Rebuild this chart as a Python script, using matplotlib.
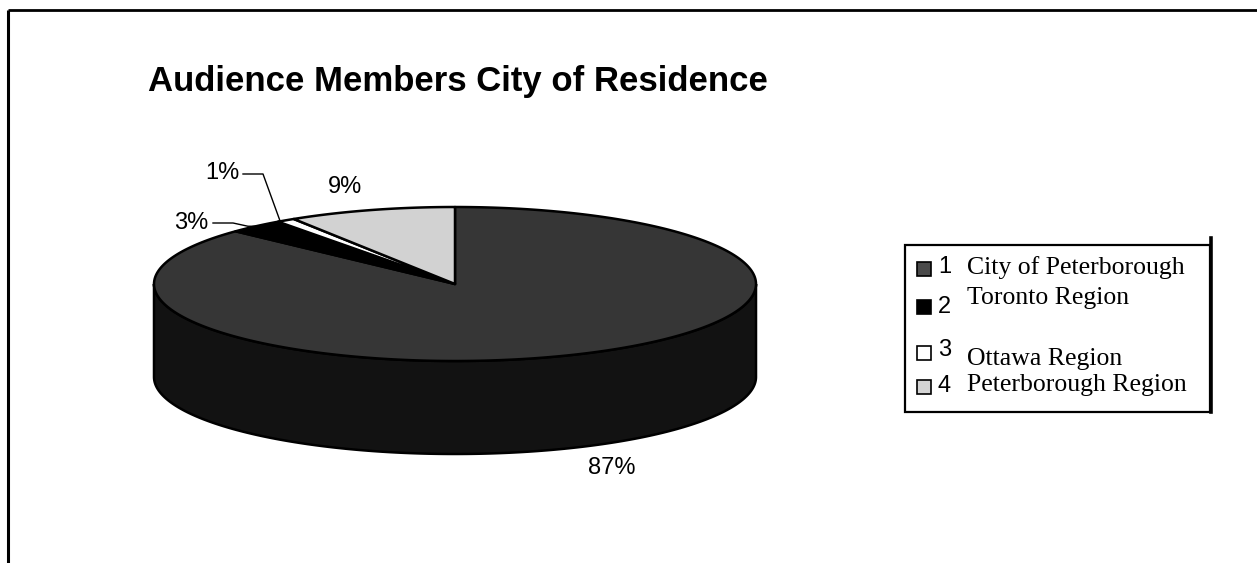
import numpy as np
import matplotlib
matplotlib.use("Agg")
import matplotlib.pyplot as plt
from matplotlib.patches import Polygon, Rectangle

# Chart data
title = "Audience Members City of Residence"
categories = ["City of Peterborough", "Toronto Region", "Ottawa Region", "Peterborough Region"]
series_ids = ["1", "2", "3", "4"]
shares = [87, 3, 1, 9]  # percent of audience

top_colors = ["#363636", "#000000", "#ffffff", "#d2d2d2"]
side_colors = ["#121212", "#000000", "#e0e0e0", "#a8a8a8"]
legend_colors = ["#4a4a4a", "#000000", "#ffffff", "#d4d4d4"]

W, H = 1257, 563
fig = plt.figure(figsize=(W / 100, H / 100), dpi=100)
ax = fig.add_axes([0, 0, 1, 1])
ax.set_xlim(0, W)
ax.set_ylim(H, 0)
ax.axis("off")

# Outer frame (left and top edges)
ax.plot([8, 8], [H, 10], color="black", lw=2.2, solid_capstyle="butt")
ax.plot([8, W], [10, 10], color="black", lw=2.0, solid_capstyle="butt")

ax.text(148, 82, title, fontsize=25, fontweight="bold", family="Liberation Sans",
        ha="left", va="center", color="black")

# 3-D pie geometry (screen pixels)
cx, cy, a, b, depth = 455, 284, 301, 77, 93


def ell(theta_deg, dy=0.0):
    t = np.radians(theta_deg)
    return cx + a * np.sin(t), cy - b * np.cos(t) + dy


bounds = np.concatenate([[0], np.cumsum(shares)]) / np.sum(shares) * 360.0

# Side walls on the front half of the pie
for i in range(len(shares)):
    lo, hi = max(bounds[i], 90.0), min(bounds[i + 1], 270.0)
    if hi <= lo:
        continue
    th = np.linspace(lo, hi, 200)
    xt, yt = ell(th)
    xb, yb = ell(th[::-1], depth)
    pts = np.column_stack([np.concatenate([xt, xb]), np.concatenate([yt, yb])])
    ax.add_patch(Polygon(pts, closed=True, facecolor=side_colors[i],
                         edgecolor="black", lw=1.8, zorder=2))

# Top faces
for i in range(len(shares)):
    th = np.linspace(bounds[i], bounds[i + 1], 300)
    xt, yt = ell(th)
    pts = np.column_stack([np.concatenate([[cx], xt]), np.concatenate([[cy], yt])])
    ax.add_patch(Polygon(pts, closed=True, facecolor=top_colors[i],
                         edgecolor="black", lw=1.8, joinstyle="round", zorder=3))

# Percentage labels
lab_font = dict(fontsize=17, family="Liberation Sans", color="black", zorder=5)
ax.text(612, 468, f"{shares[0]}%", ha="center", va="center", **lab_font)
ax.text(345, 187, f"{shares[3]}%", ha="center", va="center", **lab_font)
ax.text(191, 223, f"{shares[1]}%", ha="center", va="center", **lab_font)
ax.text(222, 173, f"{shares[2]}%", ha="center", va="center", **lab_font)

# Leader lines for the two thin slices
mid_t = (bounds[1] + bounds[2]) / 2
mid_o = (bounds[2] + bounds[3]) / 2
tx, ty = ell(mid_t)
ox, oy = ell(mid_o)
ax.plot([213, 233, tx - 8, tx], [223, 223, ty, ty], color="black", lw=1.0, zorder=4)
ax.plot([243, 263, ox - 6], [174, 174, oy], color="black", lw=1.0, zorder=4)

# Legend
ax.add_patch(Rectangle((905, 245), 305, 167, facecolor="white", edgecolor="black",
                       lw=1.6, zorder=4))
ax.plot([1211, 1211], [238, 412], color="black", lw=2.6, zorder=5)

marker_y = [269, 307, 353, 387]
num_y = [267, 307, 350, 386]
text_y = [268, 298, 359, 385]
for i, name in enumerate(categories):
    ax.add_patch(Rectangle((917, marker_y[i] - 7), 14, 14, facecolor=legend_colors[i],
                           edgecolor="black", lw=1.2, zorder=6))
    ax.text(938, num_y[i], series_ids[i], fontsize=17, family="Liberation Sans",
            ha="left", va="center", zorder=6)
    ax.text(967, text_y[i], name, fontsize=18.5, family="Liberation Serif",
            ha="left", va="center", zorder=6)

fig.savefig("out.png", dpi=100, facecolor="white")
